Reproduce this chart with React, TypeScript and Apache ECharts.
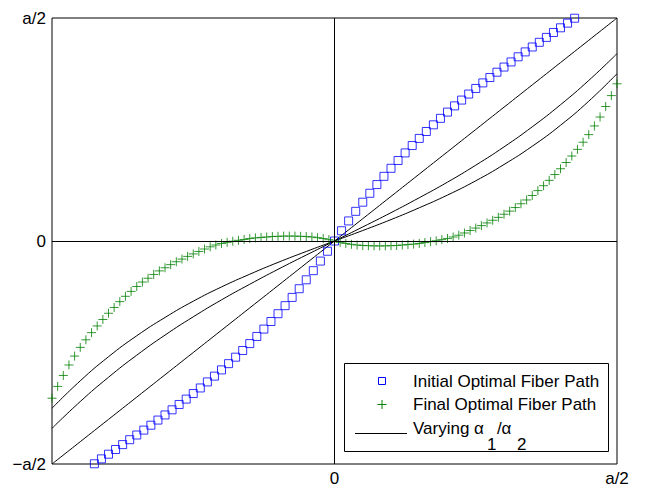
import React, { useEffect, useRef } from "react";
import * as echarts from "echarts";

// x, y in units of a/2 (so -1 .. 1)
const initialPath: [number, number][] = [
  [-0.85, -0.999], [-0.825, -0.977], [-0.8, -0.956], [-0.775, -0.935], [-0.75, -0.913],
  [-0.725, -0.891], [-0.7, -0.87], [-0.675, -0.848], [-0.65, -0.826], [-0.625, -0.803],
  [-0.6, -0.78], [-0.575, -0.757], [-0.55, -0.733], [-0.525, -0.709], [-0.5, -0.684],
  [-0.475, -0.659], [-0.45, -0.632], [-0.425, -0.606], [-0.4, -0.578], [-0.375, -0.55],
  [-0.35, -0.521], [-0.325, -0.491], [-0.3, -0.46], [-0.275, -0.428], [-0.25, -0.395],
  [-0.225, -0.361], [-0.2, -0.326], [-0.175, -0.29], [-0.15, -0.253], [-0.125, -0.214],
  [-0.1, -0.174], [-0.075, -0.133], [-0.05, -0.09], [-0.025, -0.046], [0, 0],
  [0.025, 0.046], [0.05, 0.09], [0.075, 0.133], [0.1, 0.174], [0.125, 0.214],
  [0.15, 0.253], [0.175, 0.29], [0.2, 0.326], [0.225, 0.361], [0.25, 0.395],
  [0.275, 0.428], [0.3, 0.46], [0.325, 0.491], [0.35, 0.521], [0.375, 0.55],
  [0.4, 0.578], [0.425, 0.606], [0.45, 0.632], [0.475, 0.659], [0.5, 0.684],
  [0.525, 0.709], [0.55, 0.733], [0.575, 0.757], [0.6, 0.78], [0.625, 0.803],
  [0.65, 0.826], [0.675, 0.848], [0.7, 0.87], [0.725, 0.891], [0.75, 0.913],
  [0.775, 0.935], [0.8, 0.956], [0.825, 0.977], [0.85, 0.999],
];

const finalPath: [number, number][] = [
  [-1.0, -0.705], [-0.98, -0.652], [-0.96, -0.603], [-0.94, -0.556], [-0.92, -0.516],
  [-0.9, -0.477], [-0.88, -0.443], [-0.86, -0.411], [-0.84, -0.381], [-0.82, -0.352],
  [-0.8, -0.324], [-0.78, -0.298], [-0.76, -0.272], [-0.74, -0.248], [-0.72, -0.226],
  [-0.7, -0.204], [-0.68, -0.184], [-0.66, -0.167], [-0.64, -0.15], [-0.62, -0.134],
  [-0.6, -0.12], [-0.58, -0.106], [-0.56, -0.093], [-0.54, -0.081], [-0.52, -0.069],
  [-0.5, -0.058], [-0.48, -0.047], [-0.46, -0.036], [-0.44, -0.026], [-0.42, -0.018],
  [-0.4, -0.011], [-0.38, -0.006], [-0.36, -0.001], [-0.34, 0.003], [-0.32, 0.007],
  [-0.3, 0.011], [-0.28, 0.014], [-0.26, 0.016], [-0.24, 0.018], [-0.22, 0.02],
  [-0.2, 0.021], [-0.18, 0.022], [-0.16, 0.022], [-0.14, 0.022], [-0.12, 0.021],
  [-0.1, 0.02], [-0.08, 0.018], [-0.06, 0.015], [-0.04, 0.011], [-0.02, 0.006],
  [0, 0],
  [0.02, -0.006], [0.04, -0.011], [0.06, -0.015], [0.08, -0.018], [0.1, -0.02],
  [0.12, -0.021], [0.14, -0.022], [0.16, -0.022], [0.18, -0.022], [0.2, -0.021],
  [0.22, -0.02], [0.24, -0.018], [0.26, -0.016], [0.28, -0.014], [0.3, -0.011],
  [0.32, -0.007], [0.34, -0.003], [0.36, 0.001], [0.38, 0.006], [0.4, 0.011],
  [0.42, 0.018], [0.44, 0.026], [0.46, 0.036], [0.48, 0.047], [0.5, 0.058],
  [0.52, 0.069], [0.54, 0.081], [0.56, 0.093], [0.58, 0.106], [0.6, 0.12],
  [0.62, 0.134], [0.64, 0.15], [0.66, 0.167], [0.68, 0.184], [0.7, 0.204],
  [0.72, 0.226], [0.74, 0.248], [0.76, 0.272], [0.78, 0.298], [0.8, 0.324],
  [0.82, 0.352], [0.84, 0.381], [0.86, 0.411], [0.88, 0.443], [0.9, 0.477],
  [0.92, 0.516], [0.94, 0.556], [0.96, 0.603], [0.98, 0.652], [1.0, 0.705],
];

const ratioX = [-1, -0.9, -0.8, -0.7, -0.6, -0.5, -0.4, -0.3, -0.2, -0.1, 0, 0.1, 0.2, 0.3, 0.4, 0.5, 0.6, 0.7, 0.8, 0.9, 1];
const ratioLineA = [-1, -0.9, -0.8, -0.7, -0.6, -0.5, -0.4, -0.3, -0.2, -0.1, 0, 0.1, 0.2, 0.3, 0.4, 0.5, 0.6, 0.7, 0.8, 0.9, 1];
const ratioLineB = [-0.84, -0.72, -0.611, -0.512, -0.422, -0.34, -0.264, -0.194, -0.127, -0.063, 0, 0.063, 0.127, 0.194, 0.264, 0.34, 0.422, 0.512, 0.611, 0.72, 0.84];
const ratioLineC = [-0.75, -0.627, -0.519, -0.425, -0.343, -0.27, -0.206, -0.149, -0.096, -0.047, 0, 0.047, 0.096, 0.149, 0.206, 0.27, 0.343, 0.425, 0.519, 0.627, 0.75];

const xTickLabels: Record<string, string> = { "-1": "", "0": "0", "1": "a/2" };
const yTickLabels: Record<string, string> = { "-1": "\u2212a/2", "0": "0", "1": "a/2" };

const legendInitial = "Initial Optimal Fiber Path";
const legendFinal = "Final Optimal Fiber Path";

const FONT = "'Liberation Sans', Arial, Helvetica, sans-serif";

export default function App() {
  const ref = useRef<HTMLDivElement>(null);

  useEffect(() => {
    if (!ref.current) return;
    const chart = echarts.init(ref.current, undefined, { renderer: "svg" });

    const lineSeries = (data: number[], withMark: boolean) => ({
      type: "line",
      data: ratioX.map((x, i) => [x, data[i]]),
      smooth: true,
      showSymbol: false,
      symbol: "none",
      lineStyle: { color: "#000", width: 1 },
      z: 2,
      silent: true,
      ...(withMark
        ? {
            markLine: {
              silent: true,
              symbol: ["none", "none"],
              label: { show: false },
              lineStyle: { color: "#000", type: "solid", width: 1 },
              data: [{ xAxis: 0 }, { yAxis: 0 }],
            },
          }
        : {}),
    });

    const txt = (text: string, x: number, y: number) => ({
      type: "text",
      x,
      y,
      z: 101,
      style: {
        text,
        fill: "#000",
        fontSize: 17,
        fontFamily: FONT,
        align: "left",
        verticalAlign: "middle",
      },
    });

    chart.setOption({
      animation: false,
      backgroundColor: "#fff",
      grid: {
        left: 52,
        right: 28,
        top: 18,
        bottom: 23,
        show: true,
        borderColor: "#000",
        borderWidth: 1,
        backgroundColor: "transparent",
      },
      xAxis: {
        type: "value",
        min: -1,
        max: 1,
        interval: 1,
        axisLine: { show: false },
        axisTick: { show: false },
        splitLine: { show: false },
        axisLabel: {
          showMinLabel: true,
          showMaxLabel: true,
          margin: 6,
          color: "#000",
          fontSize: 17,
          fontFamily: FONT,
          formatter: (v: number) => xTickLabels[String(v)] ?? "",
        },
      },
      yAxis: {
        type: "value",
        min: -1,
        max: 1,
        interval: 1,
        axisLine: { show: false },
        axisTick: { show: false },
        splitLine: { show: false },
        axisLabel: {
          showMinLabel: true,
          showMaxLabel: true,
          margin: 6,
          color: "#000",
          fontSize: 17,
          fontFamily: FONT,
          formatter: (v: number) => yTickLabels[String(v)] ?? "",
        },
      },
      series: [
        lineSeries(ratioLineA, true),
        lineSeries(ratioLineB, false),
        lineSeries(ratioLineC, false),
        {
          type: "scatter",
          name: legendInitial,
          data: initialPath,
          symbol: "rect",
          symbolSize: 8,
          clip: false,
          itemStyle: { color: "none", borderColor: "#0000ff", borderWidth: 1 },
          z: 3,
          silent: true,
        },
        {
          type: "scatter",
          name: legendFinal,
          data: finalPath,
          symbol: "path://M0,5L10,5M5,0L5,10",
          symbolSize: 9,
          clip: false,
          itemStyle: { color: "none", borderColor: "#008000", borderWidth: 1 },
          z: 4,
          silent: true,
        },
      ],
      graphic: [
        {
          type: "rect",
          z: 100,
          shape: { x: 344.5, y: 363.5, width: 264, height: 88 },
          style: { fill: "#fff", stroke: "#000", lineWidth: 1 },
        },
        {
          type: "rect",
          z: 101,
          shape: { x: 378.5, y: 377.5, width: 7, height: 7 },
          style: { fill: "none", stroke: "#0000ff", lineWidth: 1 },
        },
        {
          type: "line",
          z: 101,
          shape: { x1: 377.5, y1: 404.5, x2: 386.5, y2: 404.5 },
          style: { stroke: "#008000", lineWidth: 1 },
        },
        {
          type: "line",
          z: 101,
          shape: { x1: 382, y1: 400, x2: 382, y2: 409 },
          style: { stroke: "#008000", lineWidth: 1 },
        },
        {
          type: "line",
          z: 101,
          shape: { x1: 355, y1: 433.5, x2: 407, y2: 433.5 },
          style: { stroke: "#000", lineWidth: 1 },
        },
        txt(legendInitial, 413, 381),
        txt(legendFinal, 413, 404),
        txt("Varying", 413, 428),
        txt("\u03b1", 474, 428),
        txt("1", 487, 444),
        txt("/", 497, 428),
        txt("\u03b1", 501.5, 428),
        txt("2", 517, 444),
      ],
    });

    return () => chart.dispose();
  }, []);

  return (
    <div
      ref={ref}
      style={{ position: "fixed", left: 0, top: 0, width: 645, height: 487, background: "#fff" }}
    />
  );
}
